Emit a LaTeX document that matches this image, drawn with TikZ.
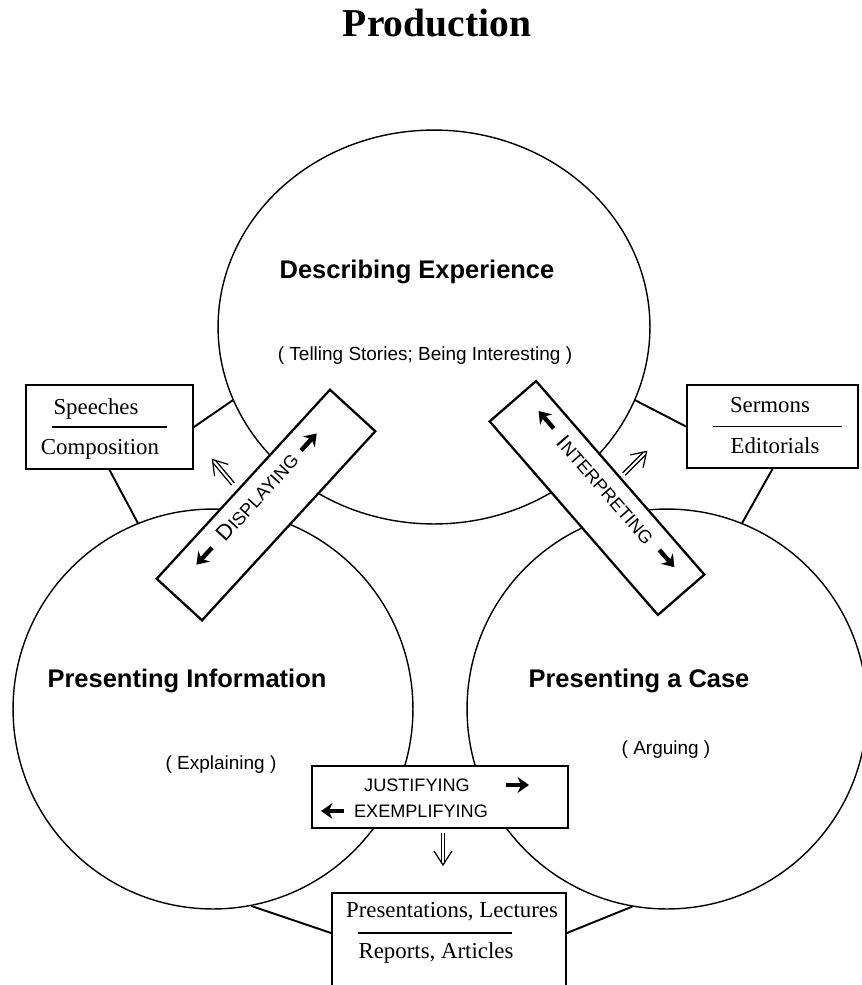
\documentclass[tikz,border=0pt]{standalone}
\usepackage{fontspec}
\setmainfont{Liberation Serif}
\setsansfont{Liberation Sans}
\usetikzlibrary{arrows.meta, positioning, shapes.geometric}

\tikzset{
  hollowarrow/.pic={
    \draw[line width=0.7pt] (-1.8,0) -- (-1.8,-29) (1.8,0) -- (1.8,-29);
    \draw[line width=0.7pt, line join=miter] (-9,-18) -- (0,-32) -- (9,-18);
  }
}

\begin{document}
\begin{tikzpicture}[
    x=0.02cm, y=-0.02cm,
    bubble/.style={circle, draw, line width=0.8pt, minimum size=8cm, inner sep=0pt},
    topbubble/.style={ellipse, draw, line width=0.8pt, minimum width=8.64cm, minimum height=7.88cm, inner sep=0pt},
    heading/.style={font=\sffamily\bfseries\fontsize{14.5}{17}\selectfont},
    gloss/.style={font=\sffamily\fontsize{10.8}{13}\selectfont},
    genrebox/.style={rectangle, draw, line width=1.1pt, fill=white, inner sep=0pt},
    genre/.style={font=\fontsize{13}{15}\selectfont},
    boxrule/.style={line width=1.1pt},
    link/.style={line width=1.1pt},
    bar/.style={rectangle, draw, line width=1.3pt, fill=white, minimum width=5.13cm, minimum height=1.23cm, inner sep=0pt},
    barlabel/.style={font=\sffamily\fontsize{10.3}{12}\selectfont},
    fatarrow/.style={-{Stealth[length=6.5pt, width=9pt]}, line width=2.5pt},
]
\path[use as bounding box, fill=white] (0,0) rectangle (862,985);
\clip (0,0) rectangle (862,985);

% Title
\node[font=\bfseries\fontsize{22.5}{26}\selectfont] (title) at (437,23.5) {Production};

% The three circles
\node[topbubble] (describing) at (434,327) {};
\node[bubble] (information) at (213,709) {};
\node[bubble] (case) at (667,709) {};

\node[heading] (describinglbl) at (417,271.5) {Describing Experience};
\node[gloss] (describinggloss) at (425,356) {( Telling Stories; Being Interesting )};
\node[heading] (informationlbl) at (187,680.5) {Presenting Information};
\node[gloss] (informationgloss) at (221,764.5) {( Explaining )};
\node[heading] (caselbl) at (639,680.5) {Presenting a Case};
\node[gloss] (casegloss) at (666,749.5) {( Arguing )};

% Genre boxes
\node[genrebox, minimum width=3.34cm, minimum height=1.68cm] (speeches) at (109.5,427) {};
\node[genre] (speechestxt) at (96,409) {Speeches};
\node[genre] (compositiontxt) at (100,449.5) {Composition};
\draw[boxrule] ([xshift=0.54cm]speeches.west) -- ([xshift=-0.54cm]speeches.east);

\node[genrebox, minimum width=3.42cm, minimum height=1.66cm] (sermons) at (772.5,426.5) {};
\node[genre] (sermonstxt) at (770,405.5) {Sermons};
\node[genre] (editorialstxt) at (775,446) {Editorials};
\draw[boxrule] ([xshift=0.54cm]sermons.west) -- ([xshift=-0.34cm]sermons.east);

\node[genrebox, minimum width=4.68cm, minimum height=2.14cm] (presentations) at (449,946.5) {};
\node[genre] (presentationstxt) at (452,912) {Presentations, Lectures};
\node[genre] (reportstxt) at (436,953) {Reports, Articles};
\coordinate (presrule) at (435,933);
\draw[boxrule] (358,933) -- (512,933);

% Links from the boxes to the circles
\draw[link] (speeches.east) -- (describing.200);
\draw[link] (speeches.south) -- (information.112);
\draw[link] (sermons.west) -- (describing.340);
\draw[link] (sermons.south) -- (case.68);
\draw[link] (presentations.west |- presrule) -- (information.281);
\draw[link] (presentations.east |- presrule) -- (case.260);

% Bottom box
\node[genrebox, line width=1.3pt, minimum width=5.12cm, minimum height=1.24cm] (justbox) at (440,797) {};
\node[barlabel] (justify) at (417,785) {JUSTIFYING};
\node[barlabel] (exemplify) at (421,811) {EXEMPLIFYING};
\draw[fatarrow] (506,785) -- (529,785);
\draw[fatarrow] (344,811) -- (321,811);
\coordinate (justfrom) at (443,833);
\pic[rotate=180] at (justfrom) {hollowarrow};

% Displaying bar
\begin{scope}[shift={(266,505)}, rotate=47.5, transform shape]
  \node[bar] (displaying) at (0,0) {};
  \node[barlabel] (displaylbl) at (0,-12) {{\fontsize{12.5}{14}\selectfont D}ISPLAYING};
  \draw[fatarrow] (64,-11) -- (87,-11);
  \draw[fatarrow] (-68,-11) -- (-91,-11);
\end{scope}

% Interpreting bar
\begin{scope}[shift={(597,498)}, rotate=-49, transform shape]
  \node[bar] (interpreting) at (0,0) {};
  \node[barlabel] (interpretlbl) at (0,-12) {{\fontsize{12.5}{14}\selectfont I}NTERPRETING};
  \draw[fatarrow] (-81,-13) -- (-104,-13);
  \draw[fatarrow] (80,-13) -- (103,-13);
\end{scope}

% Hollow arrows
\coordinate (displayfrom) at (233,484);
\pic[rotate=40] at (displayfrom) {hollowarrow};
\coordinate (interpfrom) at (624,474);
\pic[rotate=-45] at (interpfrom) {hollowarrow};

\end{tikzpicture}
\end{document}
